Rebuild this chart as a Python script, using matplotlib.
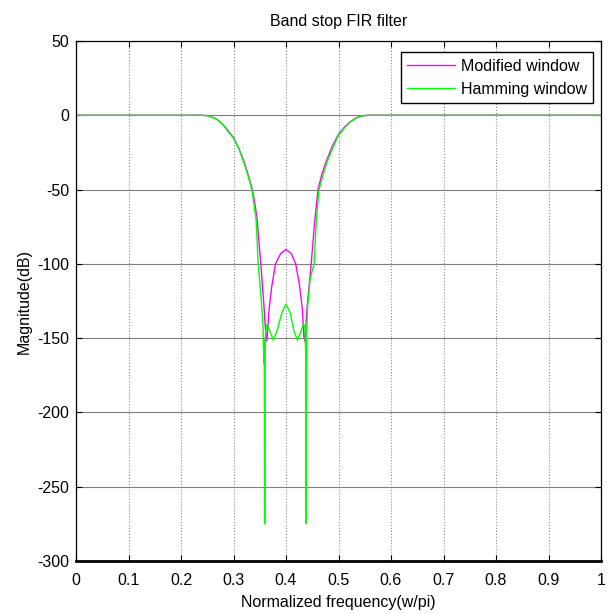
import matplotlib
matplotlib.use("Agg")
import matplotlib.pyplot as plt

# values
modified_freq = [0.0, 0.240, 0.248, 0.255, 0.262, 0.268, 0.274, 0.282, 0.290,
                 0.300, 0.310, 0.320, 0.328, 0.336, 0.341, 0.345,
                 0.352, 0.358, 0.361, 0.3635, 0.365, 0.368, 0.373, 0.380, 0.390,
                 0.400, 0.410, 0.4185, 0.426, 0.431, 0.434, 0.436, 0.440, 0.448,
                 0.455, 0.458, 0.461, 0.468, 0.476, 0.488, 0.500, 0.510, 0.520,
                 0.528, 0.535, 0.543, 0.550, 0.556, 1.0]
modified_db = [0, 0, -0.2, -0.7, -1.6, -2.6, -4.2, -7, -10.5,
               -15, -22, -31, -40, -50, -60, -70,
               -100, -128, -145, -152, -145, -130, -115, -100, -93,
               -90.3, -93, -100, -115, -130, -149, -152, -130, -100,
               -70, -60, -50, -40, -31.5, -21, -12.8, -8.5, -5,
               -3, -1.5, -0.6, -0.2, 0, 0]

hamming_freq = [0.0, 0.240, 0.248, 0.255, 0.262, 0.268, 0.274, 0.282, 0.290,
                0.300, 0.310, 0.320, 0.328, 0.335, 0.339, 0.343,
                0.347, 0.352, 0.356, 0.358, 0.3585, 0.3595, 0.3605, 0.3625,
                0.3643, 0.370, 0.3757, 0.383, 0.392, 0.400, 0.408, 0.415,
                0.4217, 0.428, 0.4331, 0.436, 0.4375, 0.438, 0.4385, 0.439,
                0.4395, 0.441, 0.446, 0.4535, 0.458, 0.4605, 0.463, 0.470,
                0.4775, 0.489, 0.500, 0.510, 0.520, 0.528, 0.535, 0.543,
                0.550, 0.556, 1.0]
hamming_db = [0, 0, -0.2, -0.7, -1.6, -2.7, -4.4, -7.3, -11,
              -15.5, -22.5, -32, -41, -50, -60, -70,
              -100, -120, -140, -167, -150, -275, -150, -142,
              -140.5, -146, -151.3, -145, -133, -127, -133, -145,
              -151.3, -146, -140.5, -142, -160, -275, -150, -193,
              -150, -130, -110, -100, -70, -60, -50, -41,
              -32, -22, -13.5, -9, -5.3, -3.2, -1.6, -0.6,
              -0.2, 0, 0]

series_labels = ["Modified window", "Hamming window"]
x_ticks = [0, 0.1, 0.2, 0.3, 0.4, 0.5, 0.6, 0.7, 0.8, 0.9, 1]
y_ticks = [-300, -250, -200, -150, -100, -50, 0, 50]


def draw():
    plt.rcParams["font.family"] = ["Liberation Sans", "DejaVu Sans"]
    plt.rcParams["axes.unicode_minus"] = False

    fig = plt.figure(figsize=(6.08, 6.14), dpi=100)
    ax = fig.add_axes([76 / 608, 53 / 614, 525 / 608, 520 / 614])

    ax.plot(modified_freq, modified_db, color="#ff00ff", lw=1.0,
            label=series_labels[0])
    ax.plot(hamming_freq, hamming_db, color="#00ff00", lw=1.0,
            label=series_labels[1])

    ax.set_xlim(0, 1)
    ax.set_ylim(-300, 50)
    ax.set_xticks(x_ticks)
    ax.set_xticklabels([f"{t:g}" for t in x_ticks])
    ax.set_yticks(y_ticks)

    ax.yaxis.grid(True, color="#7f7f7f", lw=0.8, ls="-")
    ax.xaxis.grid(True, color="#8a8a8a", lw=0.8, ls=":")
    ax.set_axisbelow(True)

    ax.tick_params(direction="in", length=4, width=0.8, labelsize=11.5,
                   top=True, right=True, pad=5)
    ax.tick_params(axis="x", pad=8.5)
    for side in ["top", "left", "right"]:
        ax.spines[side].set_linewidth(0.9)
    ax.spines["bottom"].set_linewidth(2.0)

    ax.set_xlabel("Normalized frequency(w/pi)", fontsize=11.5, labelpad=5)
    ax.set_ylabel("Magnitude(dB)", fontsize=11.5, labelpad=4)
    ax.set_title("Band stop FIR filter", fontsize=11.5, pad=10.5)

    leg = ax.legend(loc="upper right", bbox_to_anchor=(0.9853, 0.978),
                    fontsize=11.5, fancybox=False, framealpha=1,
                    edgecolor="black", handlelength=3.0, handletextpad=0.35,
                    borderaxespad=0)
    leg.get_frame().set_linewidth(1.0)

    fig.savefig("out.png", dpi=100)


if __name__ == "__main__":
    draw()
